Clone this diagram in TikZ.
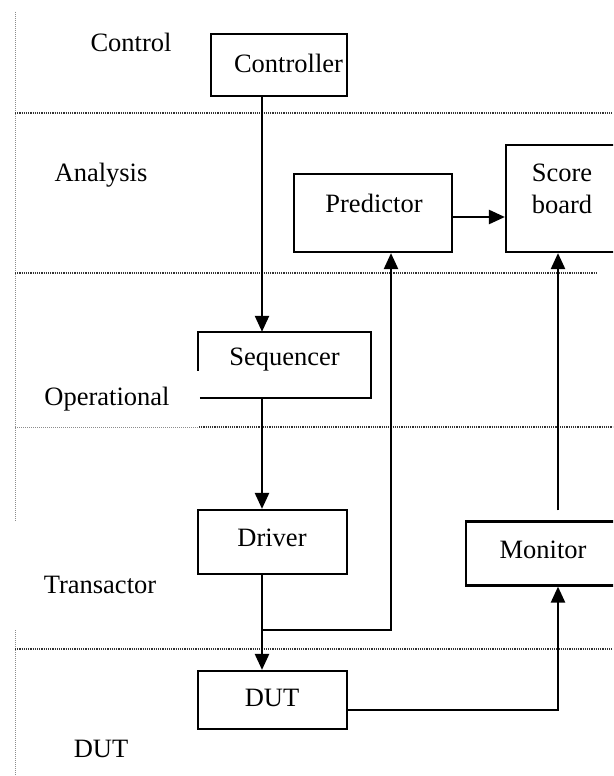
\documentclass[tikz,border=0pt]{standalone}
\usepackage{fontspec}
\setmainfont{Liberation Serif}
\usetikzlibrary{arrows.meta}

\tikzset{
  blk/.style={draw, line width=2.2pt, inner sep=0pt, rectangle},
  ghost/.style={inner sep=0pt, rectangle},
  txt/.style={inner sep=0pt, font=\fontsize{26.5}{32}\selectfont},
  conn/.style={line width=2.4pt, -{Triangle[length=16pt,width=14pt]}},
  wire/.style={line width=2.2pt},
  sep/.style={line width=1.3pt, black!80, dash pattern=on 1.2pt off 1pt},
  sepl/.style={line width=1pt, black!45, dash pattern=on 1pt off 1pt},
}

\begin{document}
\begin{tikzpicture}[x=1pt, y=-1pt]
  \useasboundingbox (0,0) rectangle (613,776);
  \clip (0,0) rectangle (613,776);

  % layer separators
  \coordinate (vl1) at (15,12);   \coordinate (vl2) at (15,522);
  \coordinate (vl3) at (15,630);  \coordinate (vl4) at (15,776);
  \draw[sepl] (vl1) -- (vl2);
  \draw[sepl] (vl3) -- (vl4);
  \coordinate (h1a) at (15,113);  \coordinate (h1b) at (613,113);
  \coordinate (h2a) at (15,273);  \coordinate (h2b) at (596,273);
  \coordinate (h3a) at (15,427);  \coordinate (h3m) at (199,427); \coordinate (h3b) at (613,427);
  \coordinate (h4a) at (15,649);  \coordinate (h4b) at (613,649);
  \draw[sep] (h1a) -- (h1b);
  \draw[sep] (h2a) -- (h2b);
  \draw[sepl] (h3a) -- (h3m);
  \draw[sep] (h3m) -- (h3b);
  \draw[sep] (h4a) -- (h4b);

  % layer names
  \node[txt] (lcontrol) at (131,42) {Control};
  \node[txt] (lanalysis) at (101,175) {Analysis};
  \node[txt] (loper) at (107,399) {Operational};
  \node[txt] (ltrans) at (100,585) {Transactor};
  \node[txt] (ldut) at (101,749) {DUT};

  % blocks
  \node[blk, minimum width=136pt, minimum height=62pt] (ctrl) at (279,65) {};
  \node[txt] (ctrlt) at (288.5,63) {Controller};

  \node[blk, minimum width=158pt, minimum height=78pt] (pred) at (373,213) {};
  \node[txt] (predt) at (374,203) {Predictor};

  \node[blk, minimum width=120pt, minimum height=107pt] (score) at (566,198.5) {};
  \node[txt, align=left] (scoret) at (562,189) {Score\\board};

  % sequencer: box left open at its lower-left corner
  \node[ghost, minimum width=173pt, minimum height=66pt] (seq) at (284.5,365) {};
  \draw[wire] ([xshift=2pt]seq.south west) -- (seq.south east) -- (seq.north east)
    -- (seq.north west) -- ([yshift=27pt]seq.south west);
  \node[txt] (seqt) at (284.5,360) {Sequencer};

  \node[blk, minimum width=149pt, minimum height=64pt] (drv) at (272.5,542) {};
  \node[txt] (drvt) at (272,538) {Driver};

  \node[blk, minimum width=160pt, minimum height=64pt] (mon) at (546,553.5) {};
  \node[txt] (mont) at (543,550) {Monitor};

  \node[blk, minimum width=149pt, minimum height=58pt] (dut) at (272.5,700) {};
  \node[txt] (dutt) at (272,698) {DUT};

  % connectors
  \coordinate (cx) at (262,0);
  \coordinate (px) at (391,0);
  \coordinate (mx) at (558,0);
  \coordinate (jn) at (262,630);

  \draw[conn] (ctrl.south -| cx) -- (seq.north -| cx);
  \draw[conn] (seq.south -| cx) -- (drv.north -| cx);
  \draw[conn] (drv.south -| cx) -- (dut.north -| cx);
  \draw[conn] (jn) -- (jn -| px) -- (pred.south -| px);
  \draw[conn] (pred.east |- 0,217) -- (score.west |- 0,217);
  \draw[conn, shorten <=10pt] (mon.north -| mx) -- (score.south -| mx);
  \draw[conn] (dut.east |- 0,710) -- (mx |- 0,710) -- (mon.south -| mx);
\end{tikzpicture}
\end{document}
